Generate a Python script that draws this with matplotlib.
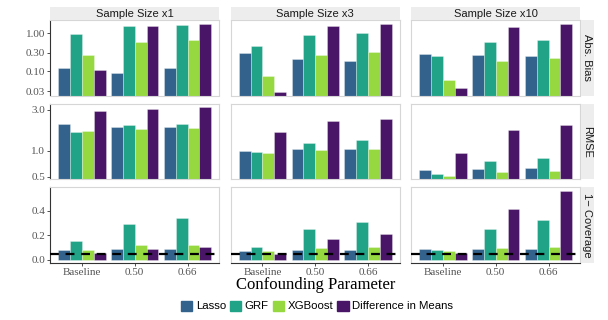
import numpy as np
import matplotlib
matplotlib.use('Agg')
import matplotlib.pyplot as plt

# data
methods = ['Lasso', 'GRF', 'XGBoost', 'Difference in Means']
colors = ['#33638D', '#20A387', '#95D840', '#481567']
params = ['Baseline', '0.50', '0.66']
sizes = ['Sample Size x1', 'Sample Size x3', 'Sample Size x10']
metrics = ['Abs. Bias', 'RMSE', '1\u2212 Coverage']

# [sample size][param][method]
abs_bias = [
    [[0.122, 0.94, 0.26, 0.107], [0.090, 1.49, 0.60, 1.49], [0.124, 1.62, 0.64, 1.78]],
    [[0.306, 0.47, 0.075, 0.028], [0.21, 0.90, 0.27, 1.49], [0.186, 1.02, 0.32, 1.75]],
    [[0.29, 0.245, 0.057, 0.037], [0.26, 0.57, 0.186, 1.44], [0.255, 0.64, 0.217, 1.75]],
]
rmse = [
    [[2.06, 1.66, 1.71, 2.92], [1.88, 1.97, 1.79, 3.08], [1.88, 2.06, 1.82, 3.22]],
    [[1.01, 0.97, 0.955, 1.66], [1.05, 1.24, 1.03, 2.19], [1.06, 1.33, 1.05, 2.36]],
    [[0.60, 0.545, 0.51, 0.95], [0.62, 0.765, 0.57, 1.74], [0.63, 0.836, 0.59, 2.0]],
]
coverage = [
    [[0.076, 0.15, 0.082, 0.055], [0.092, 0.296, 0.117, 0.087], [0.092, 0.345, 0.122, 0.106]],
    [[0.073, 0.106, 0.073, 0.046], [0.079, 0.25, 0.095, 0.169], [0.076, 0.31, 0.103, 0.215]],
    [[0.09, 0.082, 0.068, 0.055], [0.092, 0.256, 0.098, 0.414], [0.092, 0.324, 0.106, 0.566]],
]
nominal = 0.05

all_data = [abs_bias, rmse, coverage]
yticks = [[0.03, 0.10, 0.30, 1.00], [0.5, 1.0, 3.0], [0.0, 0.2, 0.4]]
yticklabels = [['0.03', '0.10', '0.30', '1.00'], ['0.5', '1.0', '3.0'], ['0.0', '0.2', '0.4']]
ylims = [(0.023, 2.2), (0.47, 3.5), (-0.025, 0.594)]

W, H = 608, 320
fig = plt.figure(figsize=(W / 100, H / 100), dpi=100)

col_x = [50, 230.7, 411]
pw = 169.3
row_y = [20, 103.8, 187.3]
ph = 75.5
serif = 'Liberation Serif'
sans = 'Liberation Sans'
border = '#D6D6D6'
strip_bg = '#EDEDED'

def px(x, y, w, h):
    return [x / W, 1 - (y + h) / H, w / W, h / H]

x = np.arange(1, 4)
bw = 0.9 / 4
for r in range(3):
    for c in range(3):
        ax = fig.add_axes(px(col_x[c], row_y[r], pw, ph))
        vals = np.array(all_data[r][c])
        if r < 2:
            ax.set_yscale('log')
            base = 1e-3
        else:
            base = 0.0
        for m in range(4):
            xs = x - 0.45 + bw * (m + 0.5)
            ax.bar(xs, vals[:, m] - base, bottom=base, width=bw, color=colors[m],
                   edgecolor=(1, 1, 1, 0.35), linewidth=0.6, zorder=2)
        if r == 2:
            ax.axhline(nominal, color='black', linestyle=(0, (4, 3)), linewidth=1.6,
                       zorder=3, clip_on=False)
        ax.set_xlim(0.4, 3.6)
        ax.set_ylim(*ylims[r])
        for side in ['top', 'right', 'left', 'bottom']:
            ax.spines[side].set_color(border)
            ax.spines[side].set_linewidth(0.8)
        ax.minorticks_off()
        ax.set_yticks(yticks[r])
        if c == 0:
            ax.spines['left'].set_color('#333333')
            ax.set_yticklabels(yticklabels[r], family=serif, fontsize=8, color='#555555')
            ax.tick_params(axis='y', length=2, width=0.6, color='#333333', pad=1.5)
        else:
            ax.set_yticklabels([])
            ax.tick_params(axis='y', length=0)
        ax.set_xticks(x)
        if r == 2:
            ax.spines['bottom'].set_color('#333333')
            ax.set_xticklabels(params, family=serif, fontsize=8, color='#555555')
            ax.tick_params(axis='x', length=2, width=0.6, color='#333333', pad=2)
        else:
            ax.set_xticklabels([])
            ax.tick_params(axis='x', length=0)

        # top strips
        if r == 0:
            sax = fig.add_axes(px(col_x[c], 7, pw, 12.5))
            sax.set_facecolor(strip_bg)
            sax.set_xticks([]); sax.set_yticks([])
            for s in sax.spines.values():
                s.set_visible(False)
            sax.text(0.5, 0.45, sizes[c], ha='center', va='center', fontsize=8,
                     family=sans, color='#1A1A1A', transform=sax.transAxes)
        # right strips
        if c == 2:
            sax = fig.add_axes(px(580.5, row_y[r], 13, ph))
            sax.set_facecolor(strip_bg)
            sax.set_xticks([]); sax.set_yticks([])
            for s in sax.spines.values():
                s.set_visible(False)
            sax.text(0.5, 0.5, metrics[r], ha='center', va='center', fontsize=8,
                     family=sans, color='#1A1A1A', rotation=-90, transform=sax.transAxes)

fig.text(316 / W, 1 - 285 / H, 'Confounding Parameter', ha='center', va='center',
         family=serif, fontsize=12, color='black')

handles = [plt.Rectangle((0, 0), 1, 1, color=col) for col in colors]
fig.legend(handles, methods, loc='center', bbox_to_anchor=(317 / W, 1 - 306 / H), ncol=4,
           frameon=False, prop={'family': sans, 'size': 8.2}, handlelength=1.0,
           handleheight=1.0, handletextpad=0.3, columnspacing=0.35, borderaxespad=0)

fig.savefig('out.png', dpi=100)
